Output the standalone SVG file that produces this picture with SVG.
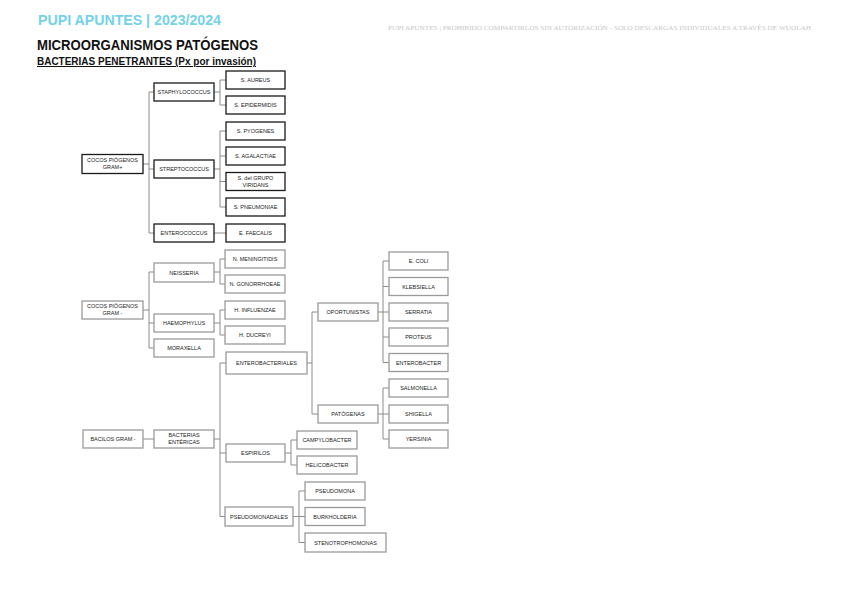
<svg xmlns="http://www.w3.org/2000/svg" width="848" height="599" viewBox="0 0 848 599">
<style>
.bk{fill:#fff;stroke:#1a1a1a;stroke-width:1.3}
.gr{fill:#fff;stroke:#9a9a9a;stroke-width:1.3}
.t{font-family:"Liberation Sans",Arial,sans-serif;font-size:5.5px;fill:#222;text-anchor:middle}
.c{fill:none;stroke:#8c8c8c;stroke-width:1}
</style>
<rect width="848" height="599" fill="#fff"/>
<text x="38" y="25" font-family="Liberation Sans,Arial,sans-serif" font-weight="bold" font-size="14.5" fill="#73d2ea" textLength="183" lengthAdjust="spacingAndGlyphs">PUPI APUNTES | 2023/2024</text>
<text x="388" y="30" font-family="Liberation Serif,serif" font-size="6" fill="#c8c8c8" textLength="423" lengthAdjust="spacingAndGlyphs">PUPI APUNTES | PROHIBIDO COMPARTIRLOS SIN AUTORIZACIÓN - SOLO DESCARGAS INDIVIDUALES A TRAVÉS DE WUOLAH</text>
<text x="37" y="50" font-family="Liberation Sans,Arial,sans-serif" font-weight="bold" font-size="14" fill="#111" textLength="221" lengthAdjust="spacingAndGlyphs">MICROORGANISMOS PATÓGENOS</text>
<text x="37" y="65" font-family="Liberation Sans,Arial,sans-serif" font-weight="bold" font-size="10" fill="#111" text-decoration="underline" textLength="219" lengthAdjust="spacingAndGlyphs">BACTERIAS PENETRANTES (Px por invasión)</text>

<g id="connectors">
<path class="c" d="M143 164H149M149 92V233M149 92H154M149 169H154M149 233H154"/>
<path class="c" d="M214 92H220M220 80V105M220 80H226M220 105H226"/>
<path class="c" d="M214 169H220M220 131V207M220 131H226M220 156H226M220 181.5H226M220 207H226"/>
<path class="c" d="M214 233H226"/>
<path class="c" d="M143 310H149M149 272V348M149 272H154M149 323H154M149 348H154"/>
<path class="c" d="M214 272H220M220 259V284M220 259H225M220 284H225"/>
<path class="c" d="M214 323H220M220 310V335M220 310H225M220 335H225"/>
<path class="c" d="M143 439H154"/>
<path class="c" d="M214 439H220M220 363V516.5M220 363H226M220 453H226M220 516.5H225"/>
<path class="c" d="M307 363H312M312 312V414M312 312H318M312 414H318"/>
<path class="c" d="M378 312H383M383 261V362.5M383 261H389M383 286.5H389M383 312H389M383 337H389M383 362.5H389"/>
<path class="c" d="M378 414H383M383 388V439M383 388H389M383 414H389M383 439H389"/>
<path class="c" d="M285 453H291M291 440V465M291 440H297M291 465H297"/>
<path class="c" d="M293 516.5H299M299 491V542.5M299 491H305M299 516.5H305M299 542.5H305"/>
</g>

<g id="cocos-gram-pos"><rect class="bk" x="82" y="154.5" width="61" height="19"/><text class="t" x="112.5" y="162">COCOS PIÓGENOS</text><text class="t" x="112.5" y="169">GRAM+</text></g>
<g id="staphylococcus"><rect class="bk" x="154" y="83" width="60" height="18"/><text class="t" x="184" y="94">STAPHYLOCOCCUS</text></g>
<g id="s-aureus"><rect class="bk" x="226" y="71" width="59" height="18"/><text class="t" x="255.5" y="82">S. AUREUS</text></g>
<g id="s-epidermidis"><rect class="bk" x="226" y="96" width="59" height="18"/><text class="t" x="255.5" y="107">S. EPIDERMIDIS</text></g>
<g id="streptococcus"><rect class="bk" x="154" y="160" width="60" height="18"/><text class="t" x="184" y="171">STREPTOCOCCUS</text></g>
<g id="s-pyogenes"><rect class="bk" x="226" y="122" width="59" height="18"/><text class="t" x="255.5" y="133">S. PYOGENES</text></g>
<g id="s-agalactiae"><rect class="bk" x="226" y="147" width="59" height="18"/><text class="t" x="255.5" y="158">S. AGALACTIAE</text></g>
<g id="s-viridans"><rect class="bk" x="226" y="172.5" width="59" height="18"/><text class="t" x="255.5" y="179.5">S. del GRUPO</text><text class="t" x="255.5" y="186.5">VIRIDANS</text></g>
<g id="s-pneumoniae"><rect class="bk" x="226" y="198" width="59" height="18"/><text class="t" x="255.5" y="209">S. PNEUMONIAE</text></g>
<g id="enterococcus"><rect class="bk" x="154" y="224" width="60" height="18"/><text class="t" x="184" y="235">ENTEROCOCCUS</text></g>
<g id="e-faecalis"><rect class="bk" x="226" y="224" width="59" height="18"/><text class="t" x="255.5" y="235">E. FAECALIS</text></g>

<g id="cocos-gram-neg"><rect class="gr" x="82" y="301" width="61" height="18"/><text class="t" x="112.5" y="308">COCOS PIÓGENOS</text><text class="t" x="112.5" y="315">GRAM -</text></g>
<g id="neisseria"><rect class="gr" x="154" y="263" width="60" height="19"/><text class="t" x="184" y="274.5">NEISSERIA</text></g>
<g id="n-meningitidis"><rect class="gr" x="225" y="250" width="60" height="18"/><text class="t" x="255" y="261">N. MENINGITIDIS</text></g>
<g id="n-gonorrhoeae"><rect class="gr" x="225" y="275" width="60" height="18"/><text class="t" x="255" y="286">N. GONORRHOEAE</text></g>
<g id="haemophylus"><rect class="gr" x="154" y="314" width="60" height="18"/><text class="t" x="184" y="325">HAEMOPHYLUS</text></g>
<g id="h-influenzae"><rect class="gr" x="225" y="301" width="60" height="18"/><text class="t" x="255" y="312">H. INFLUENZAE</text></g>
<g id="h-ducreyi"><rect class="gr" x="225" y="326" width="60" height="18"/><text class="t" x="255" y="337">H. DUCREYI</text></g>
<g id="moraxella"><rect class="gr" x="154" y="339" width="60" height="18"/><text class="t" x="184" y="350">MORAXELLA</text></g>

<g id="bacilos-gram-neg"><rect class="gr" x="83" y="430" width="60" height="18"/><text class="t" x="113" y="441">BACILOS GRAM -</text></g>
<g id="bacterias-entericas"><rect class="gr" x="154" y="430" width="60" height="18"/><text class="t" x="184" y="437">BACTERIAS</text><text class="t" x="184" y="444">ENTÉRICAS</text></g>
<g id="enterobacteriales"><rect class="gr" x="226" y="352" width="81" height="22"/><text class="t" x="266.5" y="365">ENTEROBACTERIALES</text></g>
<g id="oportunistas"><rect class="gr" x="318" y="303" width="60" height="18"/><text class="t" x="348" y="314">OPORTUNISTAS</text></g>
<g id="patogenas"><rect class="gr" x="318" y="405" width="60" height="18"/><text class="t" x="348" y="416">PATÓGENAS</text></g>
<g id="e-coli"><rect class="gr" x="389" y="252" width="59" height="18"/><text class="t" x="418.5" y="263">E. COLI</text></g>
<g id="klebsiella"><rect class="gr" x="389" y="277.5" width="59" height="18"/><text class="t" x="418.5" y="288.5">KLEBSIELLA</text></g>
<g id="serratia"><rect class="gr" x="389" y="303" width="59" height="18"/><text class="t" x="418.5" y="314">SERRATIA</text></g>
<g id="proteus"><rect class="gr" x="389" y="328" width="59" height="18"/><text class="t" x="418.5" y="339">PROTEUS</text></g>
<g id="enterobacter"><rect class="gr" x="389" y="353.5" width="59" height="18"/><text class="t" x="418.5" y="364.5">ENTEROBACTER</text></g>
<g id="salmonella"><rect class="gr" x="389" y="379" width="59" height="18"/><text class="t" x="418.5" y="390">SALMONELLA</text></g>
<g id="shigella"><rect class="gr" x="389" y="405" width="59" height="18"/><text class="t" x="418.5" y="416">SHIGELLA</text></g>
<g id="yersinia"><rect class="gr" x="389" y="430" width="59" height="18"/><text class="t" x="418.5" y="441">YERSINIA</text></g>
<g id="espirilos"><rect class="gr" x="226" y="444" width="59" height="18"/><text class="t" x="255.5" y="455">ESPIRILOS</text></g>
<g id="campylobacter"><rect class="gr" x="297" y="431" width="60" height="18"/><text class="t" x="327" y="442">CAMPYLOBACTER</text></g>
<g id="helicobacter"><rect class="gr" x="297" y="456" width="60" height="18"/><text class="t" x="327" y="467">HELICOBACTER</text></g>
<g id="pseudomonadales"><rect class="gr" x="225" y="507" width="68" height="19"/><text class="t" x="259" y="518.5">PSEUDOMONADALES</text></g>
<g id="pseudomona"><rect class="gr" x="305" y="482" width="60" height="18"/><text class="t" x="335" y="493">PSEUDOMONA</text></g>
<g id="burkholderia"><rect class="gr" x="305" y="507.5" width="60" height="18"/><text class="t" x="335" y="518.5">BURKHOLDERIA</text></g>
<g id="stenotrophomonas"><rect class="gr" x="305" y="533" width="81" height="19"/><text class="t" x="345.5" y="544.5">STENOTROPHOMONAS</text></g>
</svg>
